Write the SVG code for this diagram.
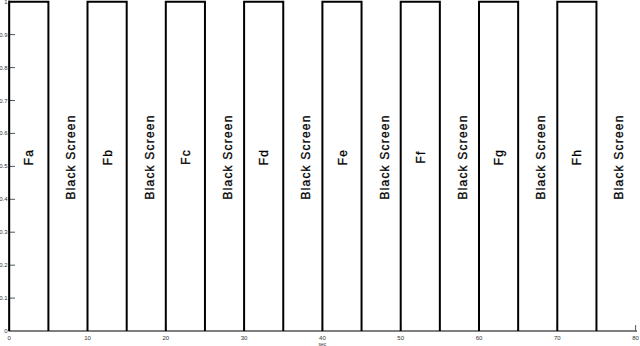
<svg xmlns="http://www.w3.org/2000/svg" width="640" height="346" viewBox="0 0 640 346">
<style>
.pulse{fill:none;stroke:#000;stroke-width:2}
.ax{stroke:#555;stroke-width:1.5;fill:none}
.tk{stroke:#555;stroke-width:1;fill:none}
.tl{font-family:"Liberation Sans",Arial,sans-serif;font-size:6px;fill:#333}
.lab{font-family:"Liberation Sans",Arial,sans-serif;font-size:12px;fill:#000;stroke:#000;stroke-width:0.3;text-anchor:middle;letter-spacing:1.2px}
</style>
<rect width="640" height="346" fill="#fff"/>
<g id="axes">
<line class="ax" x1="9.2" y1="331" x2="637" y2="331"/>
<line class="ax" x1="9.2" y1="0.5" x2="9.2" y2="331.5"/>
<path class="tk" d="M9.2 298.1H15M9.2 265.2H15M9.2 232.2H15M9.2 199.3H15M9.2 166.4H15M9.2 133.4H15M9.2 100.5H15M9.2 67.6H15M9.2 34.6H15M9.2 1.7H15"/>
<path class="tk" d="M9.2 331V325M87.5 331V325M165.8 331V325M244.1 331V325M322.4 331V325M400.7 331V325M479 331V325M557.3 331V325M635.6 331V325"/>
<g class="tl" text-anchor="end">
<text x="7.5" y="333">0</text>
<text x="7.5" y="300.1">0.1</text>
<text x="7.5" y="267.2">0.2</text>
<text x="7.5" y="234.2">0.3</text>
<text x="7.5" y="201.3">0.4</text>
<text x="7.5" y="168.4">0.5</text>
<text x="7.5" y="135.4">0.6</text>
<text x="7.5" y="102.5">0.7</text>
<text x="7.5" y="69.6">0.8</text>
<text x="7.5" y="36.6">0.9</text>
<text x="7.5" y="3.7">1</text>
</g>
<g class="tl" text-anchor="middle">
<text x="9.2" y="339.5">0</text>
<text x="87.5" y="339.5">10</text>
<text x="165.8" y="339.5">20</text>
<text x="244.1" y="339.5">30</text>
<text x="322.4" y="339.5">40</text>
<text x="400.7" y="339.5">50</text>
<text x="479" y="339.5">60</text>
<text x="557.3" y="339.5">70</text>
<text x="635.6" y="339.5">80</text>
<text x="322.4" y="345.5" style="font-size:5px">sec</text>
</g>
</g>
<g id="connectors">
<path class="pulse" d="M9.2 331V1.7H48.4V331"/>
<path class="pulse" d="M87.5 331V1.7H126.7V331"/>
<path class="pulse" d="M165.8 331V1.7H204.95V331"/>
<path class="pulse" d="M244.1 331V1.7H283.25V331"/>
<path class="pulse" d="M322.4 331V1.7H361.55V331"/>
<path class="pulse" d="M400.7 331V1.7H439.85V331"/>
<path class="pulse" d="M479 331V1.7H518.15V331"/>
<path class="pulse" d="M557.3 331V1.7H596.45V331"/>
</g>
<g id="Fa"><text class="lab" transform="translate(33.3,157) rotate(-90)">Fa</text></g>
<g id="bs1"><text class="lab" transform="translate(75.3,157) rotate(-90)">Black Screen</text></g>
<g id="Fb"><text class="lab" transform="translate(111.6,157) rotate(-90)">Fb</text></g>
<g id="bs2"><text class="lab" transform="translate(153.6,157) rotate(-90)">Black Screen</text></g>
<g id="Fc"><text class="lab" transform="translate(189.9,157) rotate(-90)">Fc</text></g>
<g id="bs3"><text class="lab" transform="translate(231.9,157) rotate(-90)">Black Screen</text></g>
<g id="Fd"><text class="lab" transform="translate(268.2,157) rotate(-90)">Fd</text></g>
<g id="bs4"><text class="lab" transform="translate(310.2,157) rotate(-90)">Black Screen</text></g>
<g id="Fe"><text class="lab" transform="translate(346.5,157) rotate(-90)">Fe</text></g>
<g id="bs5"><text class="lab" transform="translate(388.5,157) rotate(-90)">Black Screen</text></g>
<g id="Ff"><text class="lab" transform="translate(424.8,157) rotate(-90)">Ff</text></g>
<g id="bs6"><text class="lab" transform="translate(466.8,157) rotate(-90)">Black Screen</text></g>
<g id="Fg"><text class="lab" transform="translate(503.1,157) rotate(-90)">Fg</text></g>
<g id="bs7"><text class="lab" transform="translate(545.1,157) rotate(-90)">Black Screen</text></g>
<g id="Fh"><text class="lab" transform="translate(581.4,157) rotate(-90)">Fh</text></g>
<g id="bs8"><text class="lab" transform="translate(623.4,157) rotate(-90)">Black Screen</text></g>
</svg>
